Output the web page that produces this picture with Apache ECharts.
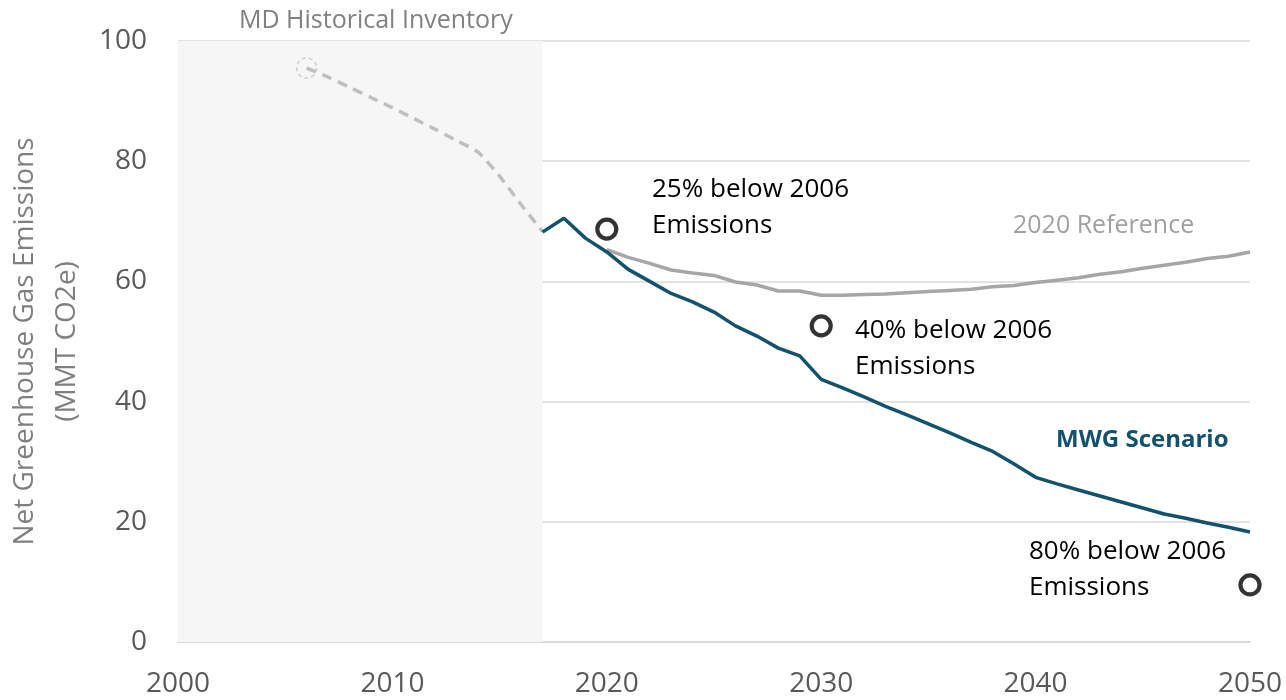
<!DOCTYPE html>
<html>
<head>
<meta charset="utf-8">
<script src="https://cdn.jsdelivr.net/npm/echarts@6/dist/echarts.min.js"></script>
<style>
  html, body { margin: 0; padding: 0; background: #fff; }
  #chart { width: 1286px; height: 700px; }
</style>
</head>
<body>
<div id="chart"></div>
<script>
// historical inventory (dashed)
var histYears = [2006, 2007, 2008, 2009, 2010, 2011, 2012, 2013, 2014, 2015, 2016, 2017];
var histValues = [95.5, 94.0, 92.3, 90.6, 88.9, 87.1, 85.3, 83.4, 81.5, 77.5, 72.8, 68.3];

// MWG scenario
var mwgYears = [2017, 2018, 2019, 2020, 2021, 2022, 2023, 2024, 2025, 2026, 2027, 2028, 2029, 2030,
    2031, 2032, 2033, 2034, 2035, 2036, 2037, 2038, 2039, 2040,
    2041, 2042, 2043, 2044, 2045, 2046, 2047, 2048, 2049, 2050];
var mwgValues = [68.2, 70.5, 67.2, 64.9, 62.0, 60.0, 58.0, 56.6, 54.9, 52.6, 50.9, 48.9, 47.6, 43.7,
    42.3, 40.8, 39.2, 37.8, 36.3, 34.8, 33.2, 31.7, 29.6, 27.4,
    26.3, 25.3, 24.3, 23.3, 22.3, 21.3, 20.6, 19.8, 19.1, 18.3];

// 2020 reference
var refYears = [2020, 2021, 2022, 2023, 2024, 2025, 2026, 2027, 2028, 2029, 2030,
    2031, 2032, 2033, 2034, 2035, 2036, 2037, 2038, 2039, 2040,
    2041, 2042, 2043, 2044, 2045, 2046, 2047, 2048, 2049, 2050];
var refValues = [65.3, 64.0, 63.0, 61.9, 61.4, 61.0, 59.9, 59.4, 58.4, 58.4, 57.7,
    57.7, 57.8, 57.9, 58.1, 58.3, 58.5, 58.7, 59.1, 59.3, 59.8,
    60.2, 60.6, 61.2, 61.6, 62.2, 62.7, 63.2, 63.8, 64.2, 64.9];

// targets
var targetYears = [2020, 2030, 2050];
var targetValues = [68.7, 52.6, 9.5];

var xTicks = [2000, 2010, 2020, 2030, 2040, 2050];
var yTicks = [0, 20, 40, 60, 80, 100];

function pairs(xs, ys) {
    return xs.map(function (x, i) { return [x, ys[i]]; });
}

var font = '"Open Sans", "Noto Sans", sans-serif';

var chart = echarts.init(document.getElementById('chart'));
var option = {
    animation: false,
    backgroundColor: '#ffffff',
    textStyle: { fontFamily: font },
    grid: { left: 178, right: 36, top: 41, bottom: 58, outerBoundsMode: 'none', containLabel: false },
    xAxis: {
        type: 'value',
        min: xTicks[0],
        max: xTicks[xTicks.length - 1],
        interval: 10,
        axisLine: { show: true, lineStyle: { color: '#d9d9d9', width: 2 } },
        axisTick: { show: false },
        splitLine: { show: false },
        axisLabel: {
            color: '#595959', fontSize: 28, margin: 28, fontFamily: font,
            formatter: function (v) { return String(v); }
        }
    },
    yAxis: {
        type: 'value',
        min: yTicks[0],
        max: yTicks[yTicks.length - 1],
        interval: 20,
        name: 'Net Greenhouse Gas Emissions\n(MMT CO2e)',
        nameLocation: 'middle',
        nameRotate: 90,
        nameGap: 89,
        nameTextStyle: { color: '#7f7f7f', fontSize: 28, lineHeight: 42, fontFamily: font },
        axisLine: { show: false },
        axisTick: { show: false },
        splitLine: { lineStyle: { color: '#d9d9d9', width: 1.5 } },
        axisLabel: { color: '#595959', fontSize: 28, margin: 31, fontFamily: font }
    },
    series: [
        {
            name: 'MD Historical Inventory',
            type: 'line',
            data: pairs(histYears, histValues),
            smooth: 0.2,
            showSymbol: false,
            lineStyle: { color: '#bfbfbf', width: 3.5, type: [10, 7] },
            z: 3,
            markArea: {
                silent: true,
                itemStyle: { color: '#f6f6f6' },
                data: [[{ xAxis: 2000, yAxis: 0 }, { xAxis: 2017, yAxis: 100 }]]
            }
        },
        {
            name: 'hist start',
            type: 'scatter',
            data: [[histYears[0], histValues[0]]],
            symbol: 'circle',
            symbolSize: 20,
            itemStyle: { color: 'rgba(255,255,255,0)', borderColor: '#c4c4c4', borderWidth: 1.5, borderType: [4, 3] },
            z: 4
        },
        {
            name: '2020 Reference',
            type: 'line',
            data: pairs(refYears, refValues),
            showSymbol: false,
            lineStyle: { color: '#a6a6a6', width: 3.5 },
            z: 3
        },
        {
            name: 'MWG Scenario',
            type: 'line',
            data: pairs(mwgYears, mwgValues),
            showSymbol: false,
            lineStyle: { color: '#12526d', width: 3.5 },
            z: 4
        },
        {
            name: 'Targets',
            type: 'scatter',
            data: pairs(targetYears, targetValues),
            symbol: 'circle',
            symbolSize: 19,
            itemStyle: { color: '#ffffff', borderColor: '#000000', borderWidth: 4.2 },
            z: 5
        }
    ],
    graphic: [
        { type: 'text', left: 239, top: 8, style: { text: 'MD Historical Inventory', fill: '#808080', font: '25px ' + font } },
        { type: 'text', left: 652, top: 172, style: { text: '25% below 2006\nEmissions', fill: '#000000', font: '26px ' + font, lineHeight: 36 } },
        { type: 'text', left: 855, top: 313, style: { text: '40% below 2006\nEmissions', fill: '#000000', font: '26px ' + font, lineHeight: 36 } },
        { type: 'text', left: 1029, top: 534, style: { text: '80% below 2006\nEmissions', fill: '#000000', font: '26px ' + font, lineHeight: 36 } },
        { type: 'text', left: 1013, top: 213, style: { text: '2020 Reference', fill: '#a0a0a0', font: '25px ' + font } },
        { type: 'text', left: 1056, top: 428, style: { text: 'MWG Scenario', fill: '#12526d', font: 'bold 24px ' + font } }
    ]
};
chart.setOption(option);
</script>
</body>
</html>
